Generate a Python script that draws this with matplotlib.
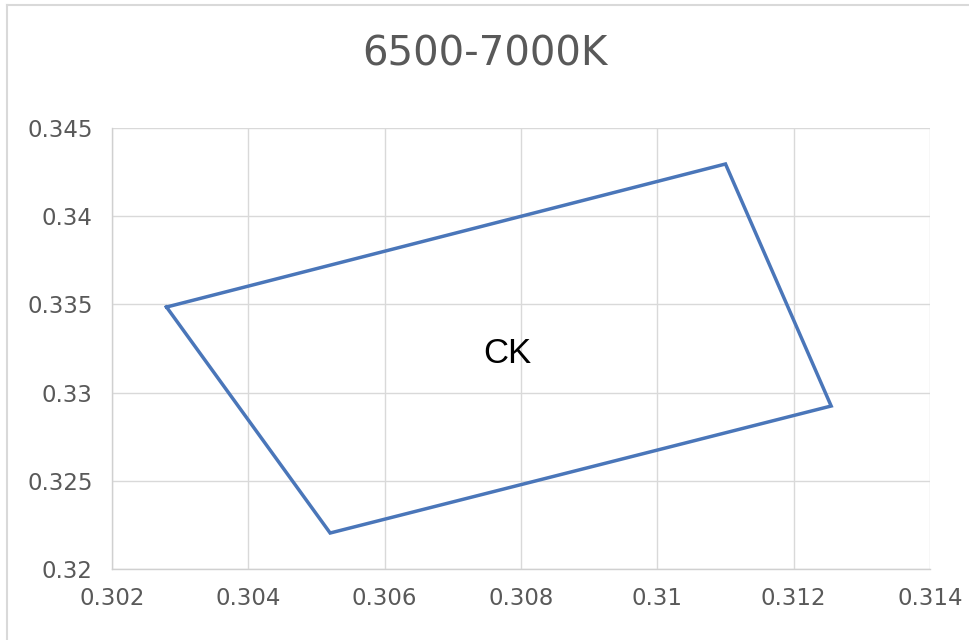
import matplotlib
matplotlib.use('Agg')
import matplotlib.pyplot as plt
from matplotlib.lines import Line2D

# chromaticity corners of the 6500-7000K box (x, y)
cx = [0.3028, 0.3110, 0.31255, 0.3052]
cy = [0.33485, 0.34296, 0.32924, 0.32204]
label = 'CK'
label_pos = (0.3078, 0.3322)
title = '6500-7000K'
xticks = [0.302, 0.304, 0.306, 0.308, 0.310, 0.312, 0.314]
xlabels = ['0.302', '0.304', '0.306', '0.308', '0.31', '0.312', '0.314']
yticks = [0.320, 0.325, 0.330, 0.335, 0.340, 0.345]
ylabels = ['0.32', '0.325', '0.33', '0.335', '0.34', '0.345']

fig = plt.figure(figsize=(9.69, 6.4), dpi=100)
ax = fig.add_axes([112/969, 71/640, (930-112)/969, (569-128)/640])

# closed polygon
ax.plot(cx + cx[:1], cy + cy[:1], color='#4A76B9', lw=2.5, solid_joinstyle='miter')
ax.text(label_pos[0], label_pos[1], label, fontsize=25, color='black',
        family='Liberation Sans', ha='center', va='center')

ax.set_xlim(0.302, 0.314)
ax.set_ylim(0.320, 0.345)
ax.set_xticks(xticks)
ax.set_xticklabels(xlabels)
ax.set_yticks(yticks)
ax.set_yticklabels(ylabels)
ax.tick_params(length=0, labelsize=16.5, labelcolor='#595959')
ax.tick_params(axis='x', pad=13)
ax.tick_params(axis='y', pad=14)
ax.grid(True, color='#D9D9D9', lw=1)
ax.set_axisbelow(True)
for s in ['top', 'right']:
    ax.spines[s].set_visible(False)
for s in ['left', 'bottom']:
    ax.spines[s].set_color('#D0D0D0')
    ax.spines[s].set_linewidth(1)

fig.text(485/969, 1 - 54/640, title, fontsize=29, color='#595959',
         ha='center', va='center')

# chart area border
fig.add_artist(Line2D([7/969, 1], [1 - 5/640, 1 - 5/640], color='#D9D9D9', lw=1.5))
fig.add_artist(Line2D([7/969, 7/969], [0, 1 - 5/640], color='#D9D9D9', lw=1.5))

fig.savefig('out.png', dpi=100)
